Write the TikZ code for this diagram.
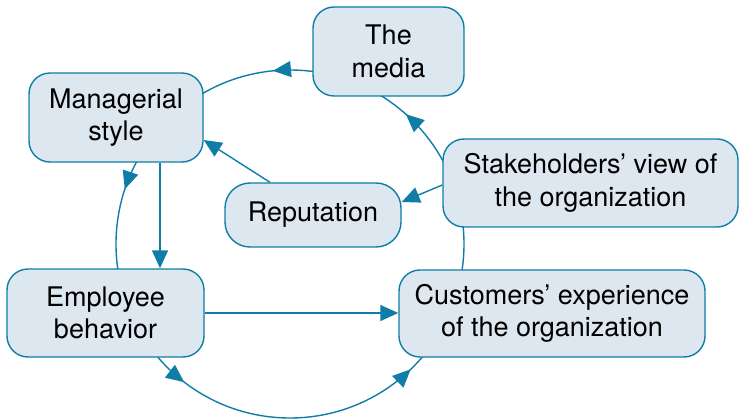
\documentclass[tikz,border=0pt]{standalone}
\usepackage{fontspec}
\setmainfont{TeX Gyre Heros}
\usetikzlibrary{arrows.meta,decorations.markings,calc}
\definecolor{boxfill}{HTML}{DCE7F0}
\definecolor{lineblue}{HTML}{0F7DA6}
\tikzset{
  box/.style={draw=lineblue, fill=boxfill, line width=1.4pt, rounded corners=21pt,
    align=center, inner sep=0pt, font=\fontsize{27}{32.5}\selectfont},
  conn/.style={draw=lineblue, line width=1.4pt, -{Triangle[length=18pt,width=16pt]}},
  cyctip/.style={-{Triangle[length=18pt,width=16pt]}}
}
\begin{document}
\begin{tikzpicture}[x=1pt,y=1pt]
\useasboundingbox (0,0) rectangle (741,418);
\coordinate (c) at (290,174);
% the cycle
\draw[lineblue, line width=1.4pt,
  decoration={markings,
    mark=at position 0.134 with {\arrow{Triangle[length=18pt,width=16pt]}},
    mark=at position 0.2656 with {\arrow{Triangle[length=18pt,width=16pt]}},
    mark=at position 0.449 with {\arrow{Triangle[length=18pt,width=16pt]}},
    mark=at position 0.646 with {\arrow{Triangle[length=18pt,width=16pt]}},
    mark=at position 0.872 with {\arrow{Triangle[length=18pt,width=16pt]}}},
  postaction={decorate}] (c) circle (174);
% nodes
\node[box, minimum width=174pt, minimum height=89pt] (mgr) at (116,300.5) {Managerial\\style};
\node[box, minimum width=151pt, minimum height=89pt] (media) at (388.5,366.5) {The\\media};
\node[box, minimum width=295pt, minimum height=88pt] (stk) at (590.5,235) {Stakeholders’ view of\\the organization};
\node[box, minimum width=176pt, minimum height=64pt, rounded corners=25pt] (rep) at (313,203) {Reputation};
\node[box, minimum width=197pt, minimum height=88pt] (emp) at (105.5,105) {Employee\\behavior};
\node[box, minimum width=306pt, minimum height=87pt] (cust) at (552,104.5) {Customers’ experience\\of the organization};
% connectors
\coordinate (xl) at (160,0);
\draw[conn] (mgr.south -| xl) -- (emp.north -| xl);
\draw[conn] ($(rep.north)+(-43,0)$) -- ($(mgr.east)+(0,-22.5)$);
\draw[conn] ($(stk.west)+(0,-2)$) -- ($(rep.east)+(0,13)$);
\draw[conn] (emp.east) -- (emp.east -| cust.west);
\end{tikzpicture}
\end{document}
